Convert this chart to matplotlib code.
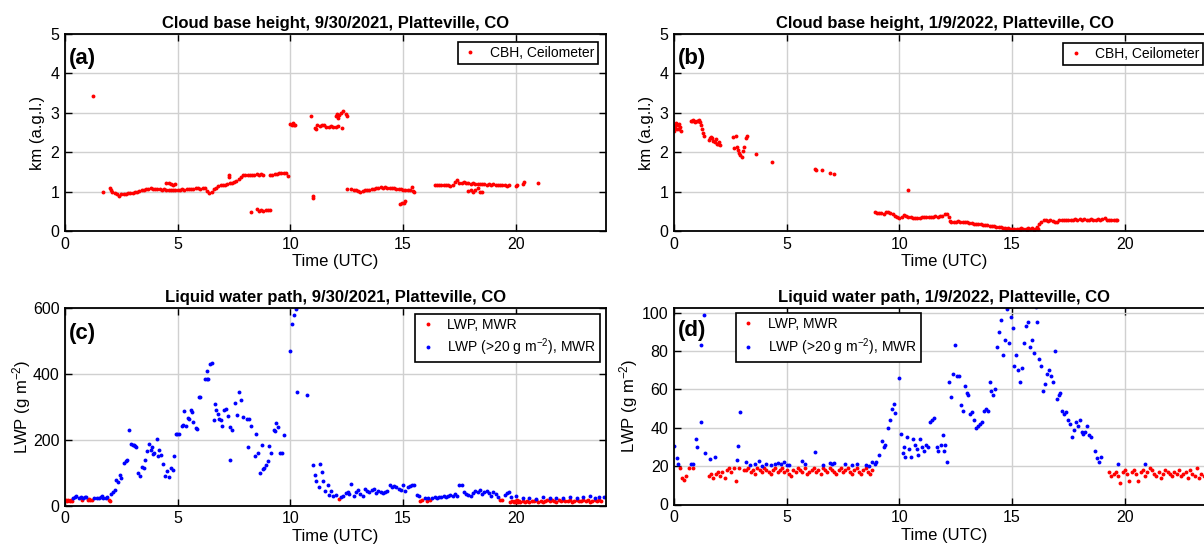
import matplotlib
matplotlib.use("Agg")
import matplotlib.pyplot as plt

plt.rcParams['font.family'] = ['Liberation Sans', 'DejaVu Sans']
plt.rcParams['mathtext.default'] = 'regular'

# ---- (a) cloud base height, 9/30/2021 ----
cbh_a_t = [1.25, 1.67,
           2.0, 2.05, 2.1, 2.2, 2.3, 2.4, 2.5, 2.6, 2.7, 2.8, 2.9, 3.0, 3.1, 3.2, 3.3, 3.4, 3.5,
           3.6, 3.7, 3.8, 3.9, 4.0, 4.1, 4.2, 4.3, 4.4, 4.5,
           4.5, 4.6, 4.7, 4.8, 4.9,
           4.6, 4.7, 4.8, 4.9, 5.0, 5.1, 5.2, 5.3, 5.4, 5.5, 5.6, 5.7, 5.8, 5.9, 6.0, 6.1, 6.2,
           6.3, 6.4, 6.5, 6.6, 6.7, 6.8, 6.9, 7.0, 7.1, 7.2, 7.3, 7.4, 7.5, 7.6, 7.7, 7.8, 7.9,
           8.0, 8.1, 8.2, 8.3, 8.4, 8.5, 8.6, 8.7, 8.8, 7.27, 7.28,
           9.1, 9.2, 9.3, 9.4, 9.5, 9.6, 9.7, 9.8, 9.9,
           8.27, 8.5, 8.6, 8.7, 8.8, 8.9, 9.0, 9.1,
           10.0, 10.05, 10.1, 10.15, 10.2, 10.9, 10.98, 11.0,
           11.1, 11.15, 11.2, 11.3, 11.4, 11.5, 11.6, 11.7, 11.8, 11.9, 12.0, 12.1, 12.3,
           12.0, 12.05, 12.1, 12.15, 12.25, 12.35, 12.45, 12.5,
           12.5, 12.7, 12.8, 12.9, 13.0, 13.1, 13.2, 13.3, 13.4, 13.5, 13.6, 13.7, 13.8, 13.9,
           14.0, 14.1, 14.2, 14.3, 14.4, 14.5, 14.6, 14.7, 14.8, 14.9, 15.0, 15.1, 15.2, 15.3,
           15.4, 15.45, 15.5,
           14.85, 14.95, 15.05, 15.1,
           16.4, 16.5, 16.6, 16.7, 16.8, 16.9, 17.0, 17.1, 17.2, 17.3, 17.4, 17.5, 17.6, 17.7,
           17.8, 17.9, 18.0, 18.1, 18.2, 18.3, 18.4, 18.5, 18.6, 18.7, 18.8, 18.9, 19.0, 19.1,
           19.2, 19.3, 19.4, 19.5, 19.6, 19.7,
           17.9, 18.0, 18.1, 18.2, 18.3, 18.4, 18.5,
           20.0, 20.05, 20.3, 20.35, 21.0]
cbh_a_z = [3.43, 0.98,
           1.09, 1.03, 1.00, 0.97, 0.93, 0.90, 0.93, 0.95, 0.94, 0.96, 0.97, 0.97, 0.98, 1.00,
           1.02, 1.03, 1.05, 1.06, 1.07, 1.08, 1.07, 1.06, 1.07, 1.06, 1.05, 1.06, 1.04,
           1.23, 1.21, 1.19, 1.18, 1.19,
           1.05, 1.03, 1.05, 1.04, 1.05, 1.05, 1.06, 1.05, 1.06, 1.06, 1.07, 1.06, 1.08, 1.09,
           1.07, 1.10, 1.08,
           1.02, 0.97, 1.00, 1.07, 1.10, 1.14, 1.16, 1.17, 1.18, 1.20, 1.21, 1.22, 1.24, 1.27,
           1.33, 1.38, 1.41,
           1.42, 1.43, 1.42, 1.43, 1.43, 1.44, 1.43, 1.44, 1.43, 1.42, 1.38,
           1.43, 1.43, 1.44, 1.45, 1.46, 1.48, 1.47, 1.46, 1.40,
           0.48, 0.55, 0.52, 0.53, 0.51, 0.53, 0.54, 0.53,
           2.72, 2.70, 2.73, 2.69, 2.70, 2.93, 0.84, 0.88,
           2.62, 2.58, 2.68, 2.66, 2.70, 2.68, 2.65, 2.63, 2.66, 2.64, 2.65, 2.66, 2.62,
           2.93, 2.98, 2.88, 2.95, 3.00, 3.04, 2.98, 2.92,
           1.07, 1.06, 1.05, 1.03, 1.02, 0.98, 1.02, 1.03, 1.04, 1.05, 1.06, 1.07, 1.09, 1.10,
           1.11, 1.10, 1.11, 1.10, 1.09, 1.09, 1.08, 1.07, 1.07, 1.06, 1.05, 1.04, 1.04, 1.03,
           1.12, 1.02, 0.98,
           0.68, 0.70, 0.72, 0.76,
           1.17, 1.17, 1.18, 1.17, 1.18, 1.17, 1.16, 1.15, 1.18, 1.25, 1.30, 1.22, 1.21, 1.24,
           1.23, 1.22, 1.20, 1.21, 1.20, 1.19, 1.20, 1.20, 1.19, 1.18, 1.19, 1.18, 1.19, 1.18,
           1.17, 1.18, 1.17, 1.18, 1.14, 1.18,
           1.02, 1.05, 0.99, 1.04, 1.08, 1.00, 0.98,
           1.14, 1.18, 1.19, 1.25, 1.22]

# ---- (b) cloud base height, 1/9/2022 ----
cbh_b_t = [0.0, 0.03, 0.06, 0.1, 0.13, 0.16, 0.2, 0.23, 0.27, 0.3,
           0.75, 0.8, 0.85, 0.9, 0.95, 1.0, 1.05, 1.1, 1.15, 1.2, 1.25, 1.3, 1.33,
           1.55, 1.6, 1.65, 1.7, 1.75, 1.8, 1.85, 1.9, 1.95, 2.0, 2.05,
           2.6, 2.65, 2.75, 2.8, 2.85, 2.9, 2.95, 3.0, 3.05, 3.1, 3.2, 3.25,
           3.63, 4.36, 6.25, 6.3, 6.55, 6.9, 7.1, 10.37,
           8.9, 9.0, 9.1, 9.2, 9.3, 9.4, 9.5, 9.6, 9.7, 9.8, 9.9, 10.0, 10.1, 10.2, 10.3, 10.4,
           10.5, 10.6, 10.7, 10.8, 10.9, 11.0, 11.1, 11.2, 11.3, 11.4, 11.5, 11.6, 11.7, 11.8,
           11.9, 12.0, 12.1, 12.2, 12.25, 12.3, 12.4, 12.5, 12.6, 12.7, 12.8, 12.9, 13.0, 13.1,
           13.2, 13.3, 13.4, 13.5, 13.6, 13.7, 13.8, 13.9, 14.0, 14.1, 14.2, 14.3, 14.4, 14.5,
           14.6, 14.7, 14.8, 14.9, 15.0, 15.1, 15.2, 15.3, 15.4, 15.5, 15.6, 15.7, 15.8, 15.9,
           16.0, 16.1, 16.2, 16.3, 16.4, 16.5, 16.6, 16.7, 16.8, 16.9, 17.0, 17.1, 17.2, 17.3,
           17.4, 17.5, 17.6, 17.7, 17.8, 17.9, 18.0, 18.1, 18.2, 18.3, 18.4, 18.5, 18.6, 18.7,
           18.8, 18.9, 19.0, 19.1, 19.2, 19.3, 19.4, 19.5, 19.6, 19.65,
           14.75, 15.05, 15.35, 15.65, 15.95, 16.15]
cbh_b_z = [2.55, 2.70, 2.62, 2.75, 2.60, 2.68, 2.72, 2.58, 2.64, 2.55,
           2.80, 2.78, 2.82, 2.79, 2.77, 2.80, 2.78, 2.82, 2.76, 2.70, 2.58, 2.48, 2.40,
           2.30, 2.35, 2.38, 2.36, 2.28, 2.25, 2.33, 2.22, 2.20, 2.25, 2.18,
           2.38, 2.10, 2.40, 2.12, 2.05, 1.98, 1.92, 1.88, 2.02, 2.12, 2.35, 2.40,
           1.95, 1.75, 1.57, 1.55, 1.55, 1.48, 1.45, 1.04,
           0.47, 0.46, 0.45, 0.46, 0.44, 0.48, 0.47, 0.45, 0.42, 0.38, 0.35, 0.32, 0.36, 0.40,
           0.38, 0.36, 0.35, 0.33, 0.34, 0.33, 0.34, 0.35, 0.35, 0.36, 0.35, 0.36, 0.36, 0.37,
           0.36, 0.38, 0.39, 0.42, 0.42, 0.35, 0.25, 0.24, 0.23, 0.24, 0.25, 0.24, 0.23, 0.23,
           0.22, 0.21, 0.21, 0.19, 0.18, 0.17, 0.17, 0.16, 0.15, 0.15, 0.13, 0.12, 0.12, 0.11,
           0.10, 0.09, 0.08, 0.08, 0.07, 0.06, 0.05, 0.06, 0.06, 0.05, 0.07, 0.06, 0.05, 0.07,
           0.06, 0.08, 0.05, 0.10, 0.17, 0.24, 0.27, 0.28, 0.26, 0.27, 0.25, 0.24, 0.22, 0.27,
           0.28, 0.29, 0.28, 0.29, 0.28, 0.29, 0.30, 0.29, 0.30, 0.29, 0.30, 0.29, 0.29, 0.30,
           0.28, 0.29, 0.30, 0.29, 0.30, 0.32, 0.29, 0.28, 0.29, 0.28, 0.28, 0.29,
           0.04, 0.03, 0.03, 0.02, 0.03, 0.04]

# ---- (c) liquid water path, 9/30/2021 ----
lwp_c_red_t = [0.05, 0.1, 0.15, 0.2, 0.25, 0.3, 0.75, 1.0, 1.05, 1.1, 1.2, 1.95, 2.0, 12.15,
               15.75, 15.85, 16.05, 16.2, 19.3, 19.4, 19.75, 19.85, 19.9, 19.95, 20.0, 20.05,
               20.1, 20.15, 20.2, 20.3, 20.4, 20.5, 20.6, 20.7, 20.8, 20.9, 21.0, 21.1, 21.2,
               21.3, 21.4, 21.5, 21.6, 21.7, 21.8, 21.9, 22.0, 22.1, 22.2, 22.3, 22.4, 22.5,
               22.6, 22.7, 22.8, 22.9, 23.0, 23.1, 23.2, 23.3, 23.4, 23.5, 23.6, 23.7, 23.8]
lwp_c_red = [17, 15, 18, 14, 16, 13, 18, 18, 19, 17, 18, 17, 15, 20,
             14, 17, 15, 18, 16, 18, 12, 14, 10, 15, 12, 16,
             11, 13, 10, 14, 12, 15, 11, 13, 14, 16, 12, 15, 10,
             14, 17, 13, 16, 15, 12, 16, 14, 17, 13, 15, 16, 12,
             14, 17, 15, 13, 16, 14, 18, 12, 15, 17, 14, 16, 15]
lwp_c_blue_t = [0.35, 0.45, 0.5, 0.6, 0.7, 0.8, 0.9, 0.95, 1.3, 1.4, 1.5, 1.6, 1.65, 1.7, 1.8,
                1.85, 2.05, 2.15, 2.2, 2.28, 2.35, 2.45, 2.5, 2.6, 2.7, 2.75, 2.85, 2.92, 3.0,
                3.05, 3.12, 3.17, 3.25, 3.33, 3.42, 3.5, 3.55, 3.65, 3.73, 3.8, 3.85, 3.92,
                3.97, 4.07, 4.12, 4.19, 4.28, 4.36, 4.45, 4.53, 4.62, 4.72, 4.78, 4.84, 4.92,
                4.98, 5.05, 5.17, 5.25, 5.29, 5.39, 5.46, 5.52, 5.6, 5.65, 5.7, 5.8, 5.85,
                5.94, 6.0, 6.2, 6.28, 6.32, 6.36, 6.45, 6.53, 6.62, 6.67, 6.72, 6.79, 6.85,
                6.9, 6.95, 7.04, 7.13, 7.21, 7.3, 7.33, 7.43, 7.53, 7.63, 7.73, 7.8, 7.9,
                8.06, 8.14, 8.17, 8.27, 8.41, 8.48, 8.56, 8.65, 8.73, 8.78, 8.82, 8.9, 8.99,
                9.07, 9.16, 9.26, 9.3, 9.36, 9.43, 9.55, 9.63, 9.72, 10.0, 10.06, 10.14, 10.23,
                10.28, 10.74, 11.0, 11.08, 11.13, 11.25, 11.3, 11.38, 11.45, 11.55, 11.65,
                11.7, 11.8, 11.9, 12.0, 12.25, 12.35, 12.45, 12.55, 12.6, 12.7, 12.8, 12.9,
                13.0, 13.1, 13.2, 13.3, 13.4, 13.5, 13.6, 13.7, 13.8, 13.9, 14.0, 14.1, 14.2,
                14.3, 14.4, 14.5, 14.6, 14.7, 14.8, 14.9, 15.0, 15.1, 15.2, 15.3, 15.4, 15.5,
                15.6, 15.7, 15.95, 16.1, 16.3, 16.4, 16.5, 16.6, 16.7, 16.8, 16.9, 17.0, 17.1,
                17.2, 17.3, 17.4, 17.5, 17.6, 17.7, 17.8, 17.9, 18.0, 18.1, 18.2, 18.3, 18.4,
                18.5, 18.6, 18.7, 18.8, 18.9, 19.0, 19.1, 19.2, 19.5, 19.6, 19.7, 19.8, 20.0,
                20.3, 20.6, 20.9, 21.2, 21.5, 21.8, 22.1, 22.4, 22.7, 23.0, 23.3, 23.5, 23.7,
                23.9]
lwp_c_blue = [22, 25, 28, 24, 26, 23, 25, 27, 22, 24, 23, 25, 28, 24, 22,
              26, 35, 40, 47, 78, 70, 93, 85, 128, 135, 139, 228, 188, 185,
              183, 180, 178, 100, 90, 118, 115, 139, 167, 188, 170, 178, 155,
              161, 202, 150, 170, 154, 127, 90, 106, 86, 114, 108, 151, 218,
              216, 218, 243, 245, 286, 243, 266, 262, 290, 285, 253, 236, 232,
              330, 330, 383, 408, 383, 383, 429, 432, 261, 307, 290, 279, 262,
              261, 243, 290, 293, 271, 240, 139, 228, 312, 276, 344, 322, 269,
              262, 178, 262, 243, 151, 216, 161, 100, 185, 110, 114, 124, 134,
              182, 158, 228, 226, 251, 240, 158, 158, 215, 470, 551, 579, 597,
              344, 337, 124, 93, 73, 56, 127, 102, 73, 45, 63,
              32, 45, 30, 32, 26, 30, 38, 42, 35, 65, 28, 40,
              48, 35, 30, 50, 45, 40, 48, 50, 38, 45, 42, 38, 40,
              45, 63, 55, 58, 55, 50, 48, 63, 45, 55, 60, 62, 62,
              32, 30, 22, 24, 22, 25, 23, 27, 25, 28, 26, 30, 33,
              28, 35, 30, 63, 63, 40, 35, 32, 28, 38, 45, 40, 48,
              35, 42, 45, 38, 30, 42, 35, 25, 32, 38, 40, 25, 28,
              22, 24, 21, 25, 22, 24, 22, 26, 23, 25, 28, 24, 26,
              25]

# ---- (d) liquid water path, 1/9/2022 ----
lwp_d_red_t = [0.25, 0.35, 0.45, 0.55, 0.65, 0.85, 1.55, 1.65, 1.75, 1.85, 1.95, 2.05, 2.15,
               2.25, 2.35, 2.45, 2.55, 2.65, 2.75, 2.9, 3.1, 3.2, 3.3, 3.4, 3.5, 3.6, 3.7,
               3.8, 3.9, 4.0, 4.1, 4.2, 4.3, 4.4, 4.5, 4.6, 4.7, 4.8, 4.9, 5.0, 5.1, 5.2,
               5.3, 5.4, 5.5, 5.6, 5.7, 5.8, 5.9, 6.0, 6.1, 6.2, 6.3, 6.4, 6.5, 6.6, 6.7,
               6.8, 6.9, 7.0, 7.1, 7.2, 7.3, 7.4, 7.5, 7.6, 7.7, 7.8, 7.9, 8.0, 8.1, 8.2,
               8.3, 8.4, 8.5, 8.6, 8.7, 8.8, 19.3, 19.4, 19.5, 19.6, 19.7, 19.8, 19.9, 20.0,
               20.1, 20.2, 20.3, 20.4, 20.5, 20.6, 20.7, 20.8, 20.9, 21.0, 21.1, 21.2, 21.3,
               21.4, 21.5, 21.6, 21.7, 21.8, 21.9, 22.0, 22.1, 22.2, 22.3, 22.4, 22.5, 22.6,
               22.7, 22.8, 22.9, 23.0, 23.1, 23.2, 23.3, 23.4, 23.5, 23.6, 23.7, 23.8, 23.9]
lwp_d_red = [19, 14, 13, 15, 19, 19, 15, 16, 14, 16, 17, 15, 17,
             14, 18, 19, 17, 19, 12, 19, 18, 18, 19, 17, 18, 16, 19,
             18, 17, 19, 18, 17, 16, 18, 19, 17, 18, 19, 17, 18, 16, 15,
             18, 17, 19, 18, 17, 19, 16, 17, 18, 19, 17, 18, 16, 19, 18,
             17, 19, 18, 17, 16, 18, 19, 17, 18, 19, 17, 16, 18, 19, 17,
             16, 18, 19, 17, 16, 18, 17, 15, 16, 17, 15, 11, 17, 18,
             16, 12, 17, 18, 16, 12, 17, 18, 15, 17, 19, 18, 16,
             15, 17, 14, 16, 18, 17, 16, 15, 17, 16, 18, 15, 16,
             17, 14, 18, 16, 15, 19, 14, 16, 15, 17, 14, 16, 15]
lwp_d_blue_t = [0.02, 0.12, 0.19, 0.75, 0.86, 0.97, 1.04, 1.18, 1.21, 1.31, 1.38, 1.58, 1.82,
                2.79, 2.84, 2.94, 3.2, 3.35, 3.6, 3.75, 3.9, 4.1, 4.3, 4.5, 4.6, 4.75, 4.9,
                5.0, 5.1, 5.7, 5.8, 6.25, 6.6, 6.9, 7.0, 7.1, 7.6, 7.9, 8.1, 8.5, 8.64, 8.8,
                8.9, 8.97, 9.1, 9.23, 9.3, 9.36, 9.49, 9.57, 9.65, 9.74, 9.82, 9.87, 9.96,
                10.08, 10.17, 10.2, 10.25, 10.34, 10.42, 10.5, 10.59, 10.67, 10.76, 10.84,
                10.93, 11.01, 11.1, 11.18, 11.27, 11.35, 11.44, 11.52, 11.66, 11.73, 11.83,
                11.92, 11.99, 12.04, 12.13, 12.21, 12.3, 12.38, 12.47, 12.55, 12.64, 12.72,
                12.81, 12.89, 12.98, 13.06, 13.15, 13.23, 13.32, 13.4, 13.49, 13.57, 13.66,
                13.74, 13.83, 13.91, 14.0, 14.08, 14.17, 14.25, 14.34, 14.42, 14.51, 14.6,
                14.68, 14.77, 14.85, 14.94, 15.02, 15.1, 15.19, 15.27, 15.36, 15.44, 15.53,
                15.61, 15.7, 15.78, 15.87, 15.95, 16.04, 16.12, 16.21, 16.29, 16.38, 16.46,
                16.55, 16.63, 16.72, 16.8, 16.89, 16.97, 17.06, 17.14, 17.23, 17.31, 17.4,
                17.48, 17.57, 17.65, 17.74, 17.82, 17.91, 17.99, 18.08, 18.16, 18.25, 18.33,
                18.42, 18.5, 18.67, 18.76, 18.84, 18.93, 19.69, 20.9]
lwp_d_blue = [30.5, 24, 21, 21, 21, 34, 30, 43, 83, 99, 27, 23.5, 25,
              23, 30.5, 48.5, 22, 20.5, 21, 22.5, 20, 21, 20.5, 21, 21.5, 21, 22,
              20.5, 20.5, 22.5, 21, 27.5, 20.5, 21.5, 21, 21.5, 21, 20.5, 21, 20.5, 20, 22,
              21, 22, 26, 33, 30, 31, 40, 44, 50, 52.5, 47.5, 78, 66,
              37, 27, 30, 25, 35, 29, 25, 34, 31, 29, 26,
              34, 30, 28, 31, 30, 43, 44, 45, 30, 28, 31,
              36, 28, 31, 22, 64, 56, 68, 83, 67, 67, 52,
              49, 62, 58, 57, 47, 48, 44, 40, 41, 42, 43,
              49, 50, 49, 64, 59, 57, 60, 82, 90, 96, 78,
              86, 102, 84, 98, 92, 72, 78, 70, 64, 71, 84,
              93, 95, 82, 86, 79, 103, 95, 76, 72, 59, 63,
              68, 70, 67, 64, 80, 55, 57, 58, 49, 47, 48,
              44, 42, 35, 39, 43, 41, 44, 38, 37, 38, 41,
              36, 35, 28, 24, 22, 25, 21, 21]

titles = ['Cloud base height, 9/30/2021, Platteville, CO',
          'Cloud base height, 1/9/2022, Platteville, CO',
          'Liquid water path, 9/30/2021, Platteville, CO',
          'Liquid water path, 1/9/2022, Platteville, CO']
panel_tags = ['(a)', '(b)', '(c)', '(d)']
tag_y = [0.875, 0.875, 0.873, 0.888]

W, H = 1204, 549
fig = plt.figure(figsize=(W / 100, H / 100), dpi=100)

def pos(x0, x1, y0, y1):
    return [x0 / W, (H - y1) / H, (x1 - x0) / W, (y1 - y0) / H]

ax_a = fig.add_axes(pos(65, 606, 34, 231))
ax_b = fig.add_axes(pos(674, 1215, 34, 231))
ax_c = fig.add_axes(pos(65, 606, 308, 505.5))
ax_d = fig.add_axes(pos(674, 1215, 308, 504.5))
axs = [ax_a, ax_b, ax_c, ax_d]

mk = dict(ls='none', marker='o', ms=2.8, mew=0)
ax_a.plot(cbh_a_t, cbh_a_z, color='red', label='CBH, Ceilometer', **mk)
ax_b.plot(cbh_b_t, cbh_b_z, color='red', label='CBH, Ceilometer', **mk)
ax_c.plot(lwp_c_red_t, lwp_c_red, color='red', label='LWP, MWR', **mk)
ax_c.plot(lwp_c_blue_t, lwp_c_blue, color='blue', label='LWP (>20 g m$^{-2}$), MWR', **mk)
ax_d.plot(lwp_d_red_t, lwp_d_red, color='red', label='LWP, MWR', **mk)
ax_d.plot(lwp_d_blue_t, lwp_d_blue, color='blue', label='LWP (>20 g m$^{-2}$), MWR', **mk)

for ax, ttl, tag, ty in zip(axs, titles, panel_tags, tag_y):
    ax.set_xlim(0, 24)
    ax.set_xticks([0, 5, 10, 15, 20])
    ax.grid(True, color='#d0d0d0', lw=1)
    ax.set_axisbelow(True)
    ax.tick_params(direction='in', top=True, right=True, length=5, width=1,
                   labelsize=11.5, pad=4)
    for s in ax.spines.values():
        s.set_linewidth(1.3)
    ax.set_title(ttl, fontsize=12, fontweight='bold', pad=4)
    ax.set_xlabel('Time (UTC)', fontsize=12, labelpad=2)
    ax.text(0.008, ty, tag, transform=ax.transAxes, fontsize=16, fontweight='bold',
            va='center', ha='left')

for ax in [ax_a, ax_b]:
    ax.set_ylim(0, 5)
    ax.set_ylabel('km (a.g.l.)', fontsize=12)
ax_c.set_ylim(0, 600)
ax_c.set_yticks([0, 200, 400, 600])
ax_d.set_ylim(0, 102.5)
ax_d.set_yticks([0, 20, 40, 60, 80, 100])
ax_c.set_ylabel('LWP (g m$^{-2}$)', fontsize=12, labelpad=0)
ax_d.set_ylabel('LWP (g m$^{-2}$)', fontsize=12, labelpad=1)

leg_kw = dict(fontsize=10, fancybox=False, edgecolor='black', handlelength=1.2,
              handletextpad=0.8, borderpad=0.3, labelspacing=0.35, framealpha=1)
lg = ax_a.legend(loc='upper right', borderaxespad=0.55, **leg_kw)
lg.get_frame().set_linewidth(1.2)
lg = ax_b.legend(loc='upper left', bbox_to_anchor=(389 / 541, 0.955), borderaxespad=0, **leg_kw)
lg.get_frame().set_linewidth(1.2)
lg = ax_c.legend(loc='upper right', borderaxespad=0.4, **leg_kw)
lg.get_frame().set_linewidth(1.2)
lg = ax_d.legend(loc='upper left', bbox_to_anchor=(62 / 541, 0.975), borderaxespad=0, **leg_kw)
lg.get_frame().set_linewidth(1.2)

fig.savefig('out.png', dpi=100)
